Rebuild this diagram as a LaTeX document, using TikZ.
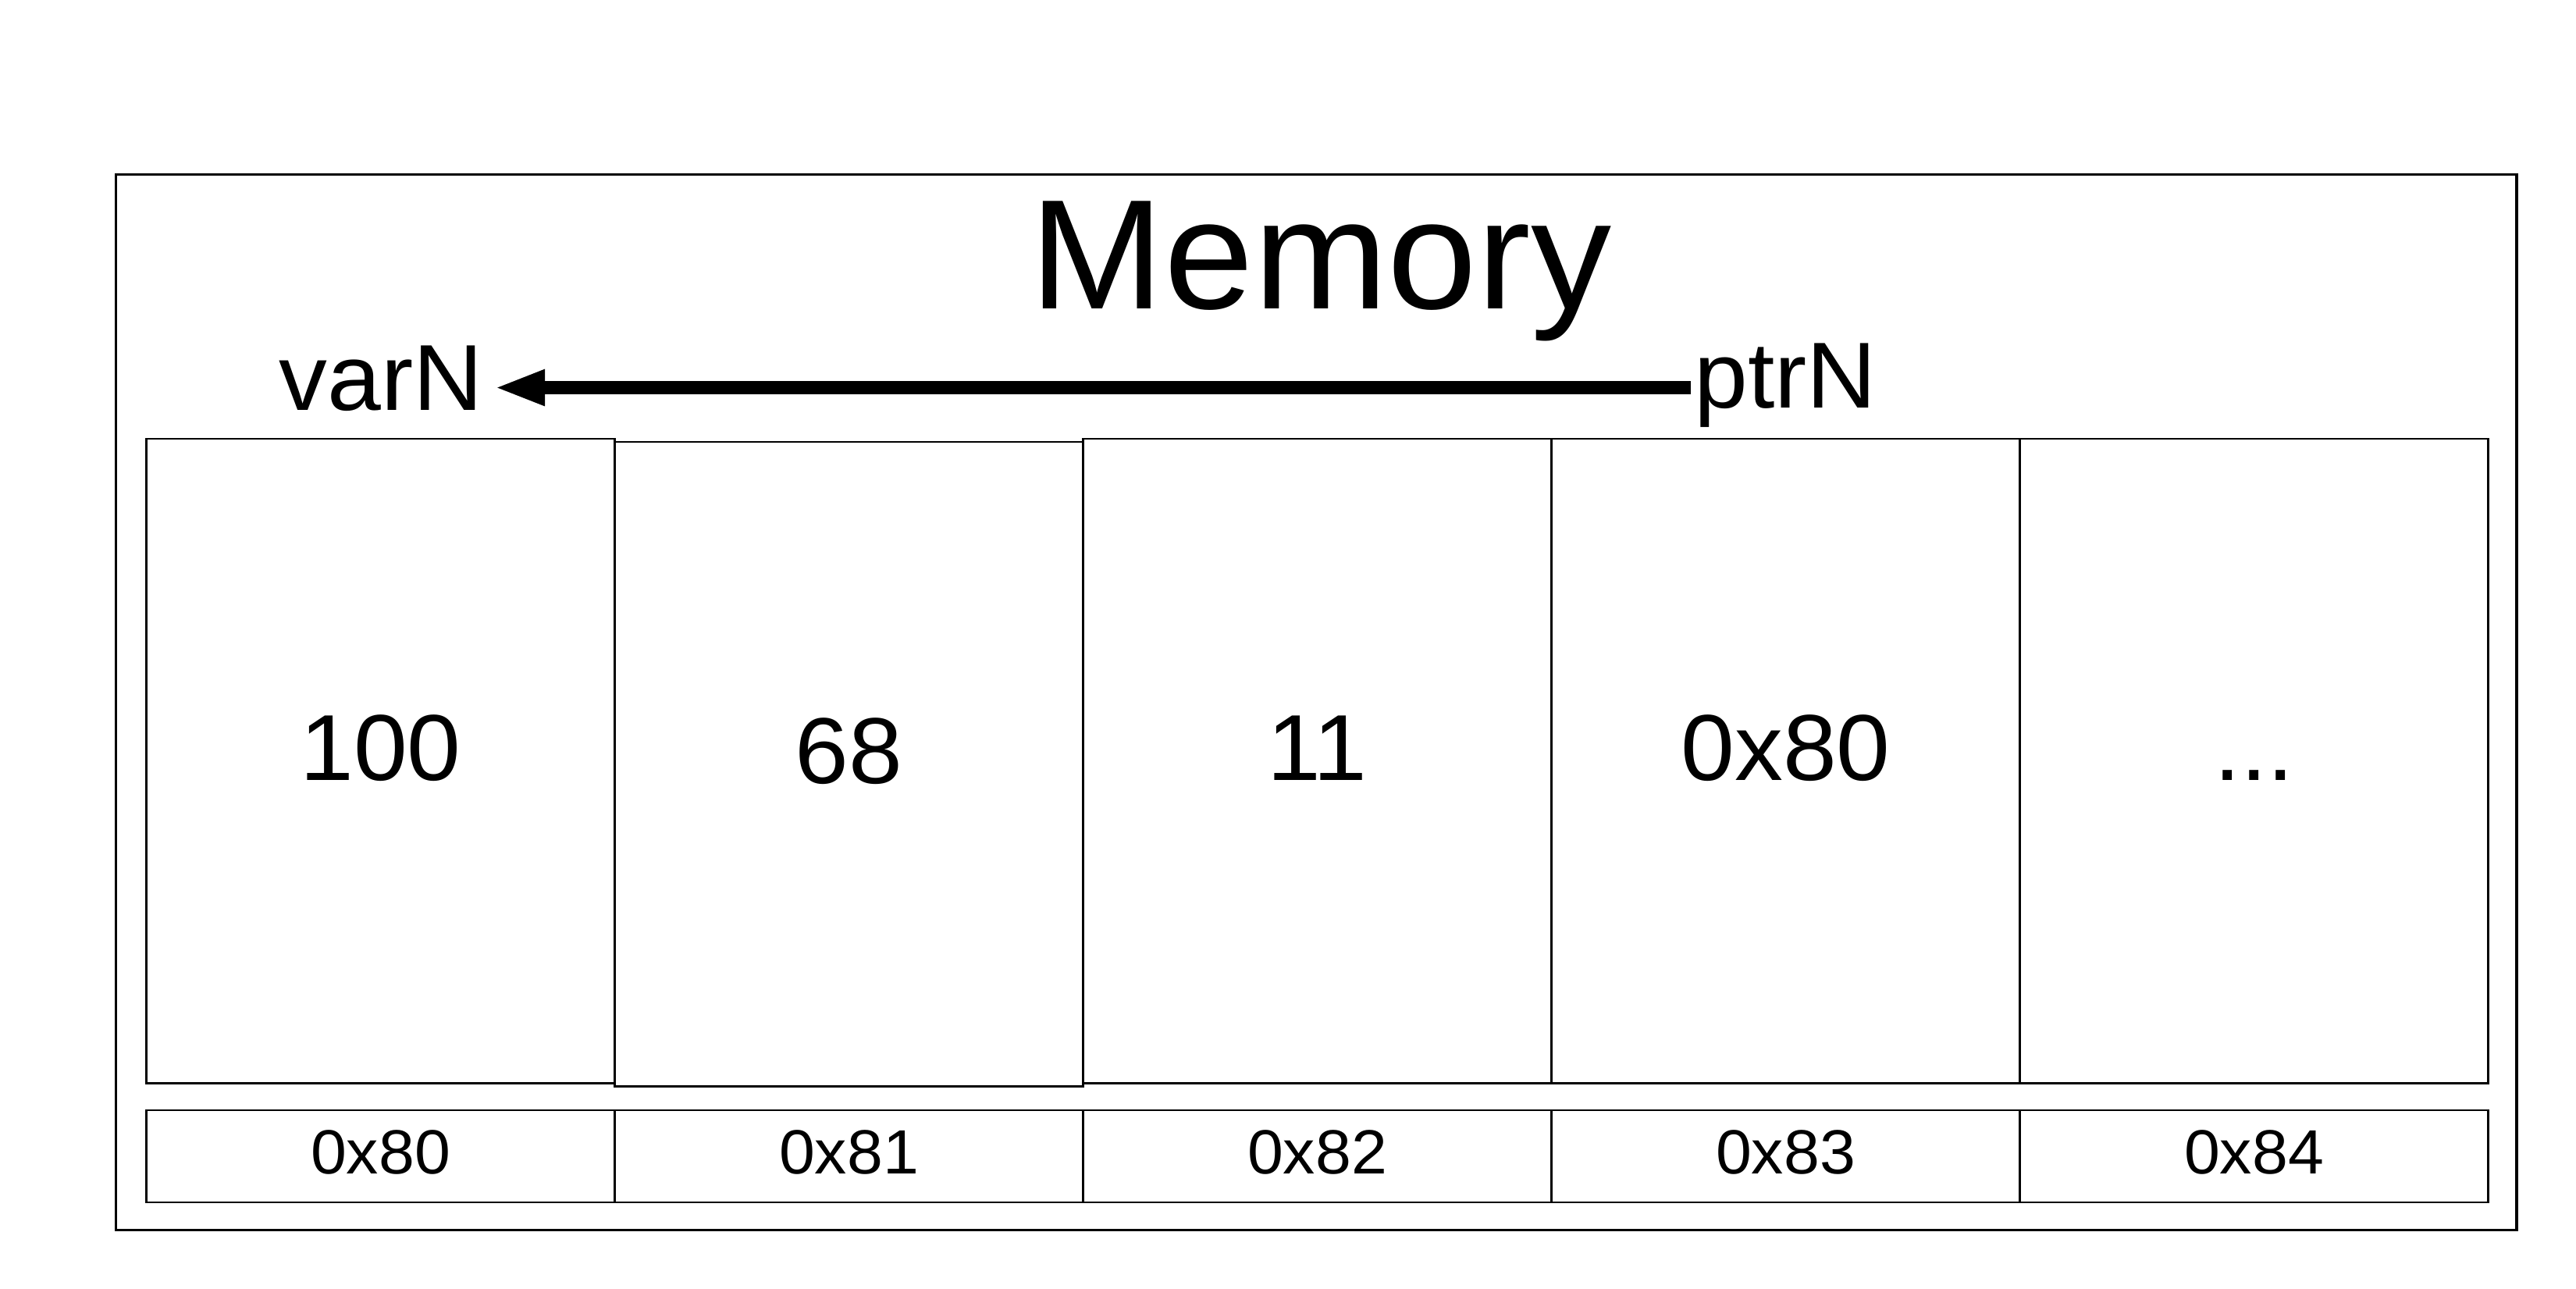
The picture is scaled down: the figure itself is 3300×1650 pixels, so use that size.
\documentclass[tikz,border=0pt]{standalone}
\usepackage{fontspec}
\setmainfont{Liberation Sans}[FakeStretch=1.03]
\usetikzlibrary{arrows.meta}
\begin{document}
\begin{tikzpicture}[x=0.01cm,y=-0.01cm,
  outerbox/.style={draw,line width=0.9pt,rectangle,inner sep=0pt,outer sep=0pt,minimum width=30.735cm,minimum height=13.51cm},
  cellbox/.style={draw,line width=0.7pt,rectangle,inner sep=0pt,outer sep=0pt,minimum width=6cm,minimum height=8.25cm},
  addrbox/.style={draw,line width=0.7pt,rectangle,inner sep=0pt,outer sep=0pt,minimum width=6cm,minimum height=1.18cm},
  valtext/.style={anchor=base,inner sep=0pt,font=\fontsize{34.14pt}{40pt}\selectfont},
  addrtext/.style={anchor=base,inner sep=0pt,font=\fontsize{22.76pt}{27pt}\selectfont},
  vartext/.style={inner sep=0pt,font=\fontsize{34.14pt}{40pt}\selectfont},
  titletext/.style={anchor=base,inner sep=0pt,font=\fontsize{56.91pt}{64pt}\selectfont},
  ptrarrow/.style={line width=0.17cm,-{Triangle[length=0.65cm,width=0.42cm]}}
]
\useasboundingbox (0,0) rectangle (3300,1650);
\node[outerbox] (mem) at (1686.25,899.5) {};
\node[titletext] (title) at (1692,395) {Memory};
% memory cells
\node[cellbox] (c1) at (487.5,974.5) {};
\node[cellbox] (c3) at (1687.5,974.5) {};
\node[cellbox] (c4) at (2287.5,974.5) {};
\node[cellbox] (c5) at (2887.5,974.5) {};
\node[cellbox] (c2) at (1087.5,978.5) {};
\node[valtext] (v1) at ([shift={(0,24.5)}]c1.center) {100};
\node[valtext] (v2) at ([shift={(0,24.5)}]c2.center) {68};
\node[valtext] (v3) at ([shift={(0,24.5)}]c3.center) {11};
\node[valtext] (v4) at ([shift={(0,24.5)}]c4.center) {0x80};
\node[valtext] (v5) at ([shift={(0,24.5)}]c5.center) {...};
% address row
\node[addrbox] (a1) at (487.5,1481) {};
\node[addrbox] (a2) at (1087.5,1481) {};
\node[addrbox] (a3) at (1687.5,1481) {};
\node[addrbox] (a4) at (2287.5,1481) {};
\node[addrbox] (a5) at (2887.5,1481) {};
\node[addrtext] (t1) at ([shift={(0,22.5)}]a1.center) {0x80};
\node[addrtext] (t2) at ([shift={(0,22.5)}]a2.center) {0x81};
\node[addrtext] (t3) at ([shift={(0,22.5)}]a3.center) {0x82};
\node[addrtext] (t4) at ([shift={(0,22.5)}]a4.center) {0x83};
\node[addrtext] (t5) at ([shift={(0,22.5)}]a5.center) {0x84};
% variable labels and pointer arrow
\node[vartext,anchor=base east] (varN) at (619.5,525) {varN};
\node[vartext,anchor=base west] (ptrN) at (2169.7,522.5) {ptrN};
\draw[ptrarrow] ([shift={(-3.7,-26)}]ptrN.base west) -- ([shift={(13.5,-28.5)}]varN.base east);
\end{tikzpicture}
\end{document}
